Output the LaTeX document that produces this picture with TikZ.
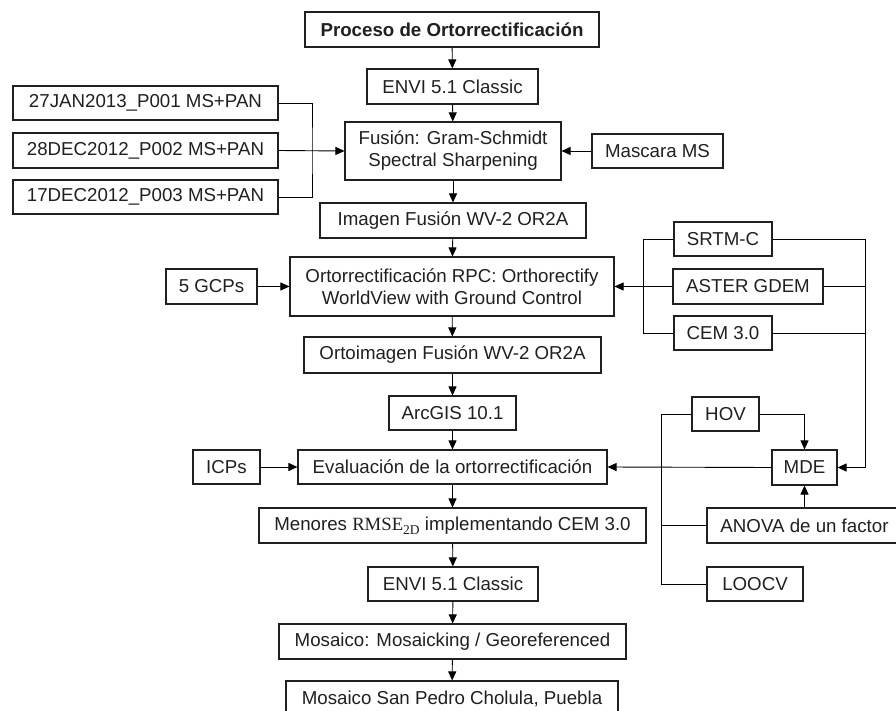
\documentclass[tikz,border=0pt]{standalone}
\usepackage{fontspec}
\setmainfont{Liberation Sans}
\newfontfamily\serifm{Liberation Serif}
\usetikzlibrary{arrows.meta}
\definecolor{ink}{HTML}{202020}
\tikzset{
  box/.style={draw=ink, line width=1.1pt, inner sep=0pt, text=ink, align=center,
    font=\fontsize{18.7}{22}\selectfont},
  conn/.style={draw=black, line width=0.9pt},
  arr/.style={conn, -{Triangle[length=9pt,width=8pt]}},
}
\begin{document}
\begin{tikzpicture}[x=1pt,y=-1pt]
\clip (0,0) rectangle (896,711);
\fill[white] (0,0) rectangle (896,711);
% main column
\node[box, font=\fontsize{18.7}{22}\selectfont\bfseries, minimum width=294pt, minimum height=35pt] (title) at (452,29.5) {Proceso de Ortorrectificación};
\node[box, minimum width=171pt, minimum height=35pt] (envi1) at (452.5,86.5) {ENVI 5.1 Classic};
\node[box, minimum width=216pt, minimum height=58pt] (fusion) at (453,151) {Fusión: Gram-Schmidt\\Spectral Sharpening};
\node[box, minimum width=266pt, minimum height=35pt] (imagen) at (453,220.5) {Imagen Fusión WV-2 OR2A};
\node[box, minimum width=324pt, minimum height=59pt] (orto) at (452,286.5) {Ortorrectificación RPC: Orthorectify\\WorldView with Ground Control};
\node[box, minimum width=297pt, minimum height=36pt] (ortoimg) at (452.5,355) {Ortoimagen Fusión WV-2 OR2A};
\node[box, minimum width=127pt, minimum height=34pt] (arcgis) at (452.5,413) {ArcGIS 10.1};
\node[box, minimum width=309pt, minimum height=34pt] (eval) at (452.5,467) {Evaluación de la ortorrectificación};
\node[box, minimum width=387pt, minimum height=35pt] (menores) at (452.5,525.5) {Menores {\serifm RMSE}\raisebox{-4pt}{\serifm\fontsize{13.5}{14}\selectfont 2D} implementando CEM 3.0};
\node[box, minimum width=170pt, minimum height=34pt] (envi2) at (453,584) {ENVI 5.1 Classic};
\node[box, minimum width=347pt, minimum height=35pt] (mosaico) at (452.5,641.5) {Mosaico: Mosaicking / Georeferenced};
\node[box, minimum width=332pt, minimum height=35pt] (final) at (452,698.5) {Mosaico San Pedro Cholula, Puebla};
% left inputs
\node[box, minimum width=265pt, minimum height=34pt] (d1) at (145.5,103) {27JAN2013\_P001 MS+PAN};
\node[box, minimum width=265pt, minimum height=35pt] (d2) at (145.5,150.5) {28DEC2012\_P002 MS+PAN};
\node[box, minimum width=265pt, minimum height=34pt] (d3) at (145.5,197) {17DEC2012\_P003 MS+PAN};
\node[box, minimum width=131pt, minimum height=34pt] (mascara) at (657.5,151) {Mascara MS};
\node[box, minimum width=91pt, minimum height=35pt] (gcp) at (211.5,286.5) {5 GCPs};
\node[box, minimum width=67pt, minimum height=34pt] (icps) at (226.5,467) {ICPs};
% right side
\node[box, minimum width=98pt, minimum height=34pt] (srtm) at (723,239) {SRTM-C};
\node[box, minimum width=150pt, minimum height=35pt] (aster) at (748,286.5) {ASTER GDEM};
\node[box, minimum width=98pt, minimum height=34pt] (cem) at (723,333) {CEM 3.0};
\node[box, minimum width=67pt, minimum height=34pt] (hov) at (725.5,414) {HOV};
\node[box, minimum width=65pt, minimum height=35pt] (mde) at (804.5,467.5) {MDE};
\node[box, minimum width=195pt, minimum height=35pt] (anova) at (804.5,525.5) {ANOVA de un factor};
\node[box, minimum width=96pt, minimum height=34pt] (loocv) at (755,584) {LOOCV};
% helper coordinates
\coordinate (bl) at (312,151);
\coordinate (br) at (643,286.5);
\coordinate (rr) at (865,467.5);
\coordinate (hb) at (661,525.5);
% main column arrows
\draw[arr] (title) -- (envi1);
\draw[arr] (envi1) -- (fusion);
\draw[arr] (fusion) -- (imagen);
\draw[arr] (imagen) -- (orto);
\draw[arr] (orto) -- (ortoimg);
\draw[arr] (ortoimg) -- (arcgis);
\draw[arr] (arcgis) -- (eval);
\draw[arr] (eval) -- (menores);
\draw[arr] (menores) -- (envi2);
\draw[arr] (envi2) -- (mosaico);
\draw[arr] (mosaico) -- (final);
% left inputs
\draw[conn] (d1.east) -| (bl) |- (d3.east);
\draw[arr] (d2.east) -- (fusion.west);
\draw[arr] (mascara.west) -- (fusion.east);
\draw[arr] (gcp.east) -- (orto.west);
\draw[arr] (icps.east) -- (eval.west);
% DEM inputs
\draw[conn] (srtm.west) -| (br) |- (cem.west);
\draw[arr] (aster.west) -- (orto.east);
\draw[arr] (srtm.east) -| (rr) -- (mde.east);
\draw[conn] (aster.east) -- (aster.east -| rr);
\draw[conn] (cem.east) -- (cem.east -| rr);
% MDE
\draw[arr] (hov.east) -| (mde.north);
\draw[arr] (mde.south |- anova.north) -- (mde.south);
\draw[conn] (hov.west) -| (hb) |- (loocv.west);
\draw[conn] (anova.west) -- (anova.west -| hb);
\draw[arr] (mde.west) -- (eval.east);
\end{tikzpicture}
\end{document}
